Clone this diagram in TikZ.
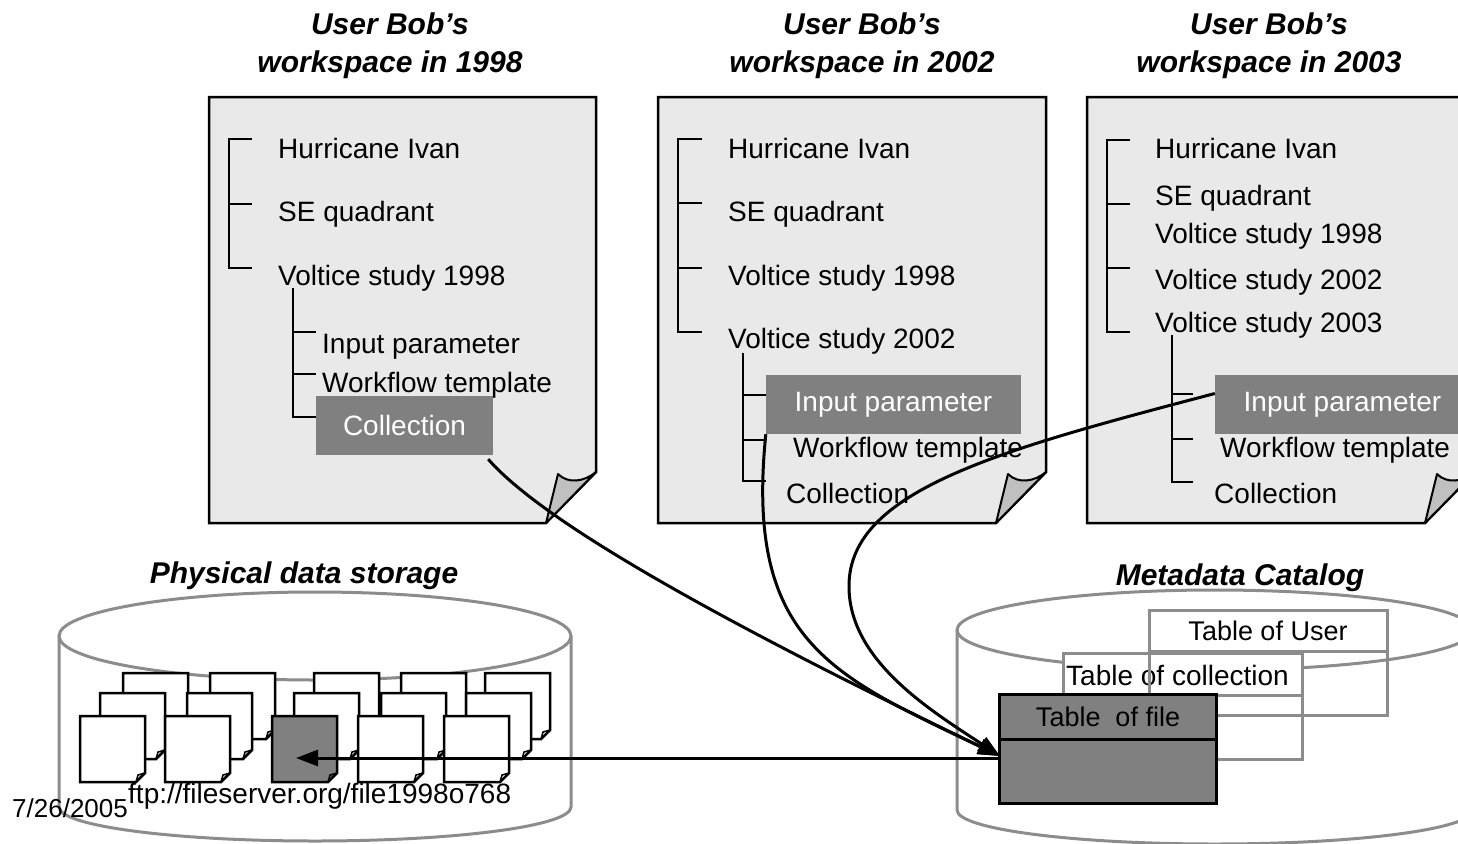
\documentclass[tikz,border=0pt]{standalone}
\usepackage{fontspec}
\setmainfont{Liberation Sans}
\usetikzlibrary{arrows.meta}
\definecolor{sheetfill}{RGB}{233,233,233}
\definecolor{boxgray}{RGB}{128,128,128}
\definecolor{curlgray}{RGB}{192,192,192}
\definecolor{drumgray}{RGB}{140,140,140}

% a workspace sheet with a curled lower right corner
\newcommand\worksheet[2]{%
  \draw[sheet] (#1,97) -- (#2,97) -- (#2,472) -- ({#2-50},523) -- (#1,523) -- cycle;
  \draw[sheetcurl] ({#2-50},523) -- ({#2-38},474)
     .. controls ({#2-28},484) and ({#2-12},482) .. (#2,472) -- cycle;
}
% a stored file with a folded corner
\newcommand\filedoc[3]{%
  \draw[docline, fill=#3] (#1,#2) -- ++(65,0) -- ++(0,57) -- ++(-9,9) -- ++(-56,0) -- cycle;
  \draw[line width=1.5pt] ({#1+56},{#2+66}) -- ({#1+58},{#2+59}) -- ({#1+65},{#2+57});
}

\begin{document}
\begin{tikzpicture}[x=1pt,y=-1pt,
  heading/.style={font=\fontsize{30}{36}\selectfont\bfseries\itshape, inner sep=0, anchor=base},
  entry/.style={font=\fontsize{28}{32}\selectfont, inner sep=0, anchor=base west},
  hlbox/.style={fill=boxgray, text=white, font=\fontsize{28}{32}\selectfont, inner sep=0,
                minimum height=59pt},
  treeline/.style={line width=2.5pt},
  sheet/.style={fill=sheetfill, draw=black, line width=2.5pt, line join=miter},
  sheetcurl/.style={fill=curlgray, draw=black, line width=2pt, line join=round},
  drum/.style={draw=drumgray, line width=3pt},
  docline/.style={draw=black, line width=2.5pt},
  tabline/.style={draw=drumgray, line width=3pt},
  conn/.style={line width=3pt, -{Triangle[length=22pt,width=16pt]}},
]
\useasboundingbox (0,0) rectangle (1458,843);
\clip (0,0) rectangle (1458,843);

% ---------------- headings ----------------
\node[heading] (h1a) at (390,35) {User Bob's};
\node[heading] (h1b) at (390,73) {workspace in 1998};
\node[heading] (h2a) at (862,35) {User Bob's};
\node[heading] (h2b) at (862,73) {workspace in 2002};
\node[heading] (h3a) at (1269,35) {User Bob's};
\node[heading] (h3b) at (1269,73) {workspace in 2003};
\node[heading] (hstore) at (304,583) {Physical data storage};
\node[heading] (hcat) at (1240,585) {Metadata Catalog};

% ---------------- physical data storage drum ----------------
\draw[drum] (315,636) ellipse[x radius=256, y radius=44];
\draw[drum] (59,636) -- (59,807)
  .. controls (59,826) and (174,841) .. (315,841)
  .. controls (456,841) and (571,826) .. (571,807) -- (571,636);

% stacks of files: back, middle, front
\foreach \x in {123,210,314,401,485} {\filedoc{\x}{673}{white}}
\foreach \x in {100,187,294,381,466} {\filedoc{\x}{693}{white}}
\foreach \x in {80,165} {\filedoc{\x}{716}{white}}
\filedoc{272}{716}{boxgray}
\foreach \x in {358,444} {\filedoc{\x}{716}{white}}
\coordinate (hitfile) at (296,758);

\node[entry] (url) at (128,803) {ftp://fileserver.org/file1998o768};
\node[entry, font=\fontsize{26}{30}\selectfont] (date) at (12,817) {7/26/2005};

% ---------------- metadata catalog drum ----------------
\draw[drum] (1215,630) ellipse[x radius=258, y radius=40];
\draw[drum] (957,630) -- (957,810)
  .. controls (957,829) and (1072,844) .. (1215,844)
  .. controls (1358,844) and (1473,829) .. (1473,810) -- (1473,630);

% tables
\fill[white] (1063,653) rectangle (1302,695);
\draw[tabline] (1063,653) rectangle (1302,759);
\draw[tabline] (1063,695) -- (1302,695);
\node[entry, text=black] (tcoll) at (1066,685) {Table of collection};

\fill[white] (1149,610) rectangle (1387,651);
\draw[tabline] (1149,610) rectangle (1387,715);
\draw[tabline] (1149,651) -- (1387,651);
\node[font=\fontsize{27}{32}\selectfont, inner sep=0] (tuser) at (1268,631) {Table of User};

\node[draw=black, line width=3pt, fill=boxgray, minimum width=217pt, minimum height=109pt,
      inner sep=0] (tfile) at (1107.5,748.5) {};
\draw[line width=3pt] (999,739) -- (1216,739);
\node[font=\fontsize{27}{32}\selectfont, inner sep=0] (tfilehead) at (1108,717) {Table\ \ of file};
\coordinate (tfin) at (1000,756);
\coordinate (tfout) at (1000,758);

% ---------------- workspace 1998 ----------------
\worksheet{209}{596}
\draw[treeline] (252,139) -- (229,139) -- (229,268) -- (252,268);
\draw[treeline] (229,204) -- (252,204);
\node[entry] (a1) at (278,158) {Hurricane Ivan};
\node[entry] (a2) at (278,221) {SE quadrant};
\node[entry] (a3) at (278,285) {Voltice study 1998};
\draw[treeline] (293,288) -- (293,417) -- (316,417);
\draw[treeline] (293,332) -- (316,332);
\draw[treeline] (293,374) -- (316,374);
\node[entry] (a4) at (322,353) {Input parameter};
\node[entry] (a5) at (322,392) {Workflow template};
\node[hlbox, minimum width=177pt] (col1) at (404.5,425.5) {Collection};

% ---------------- workspace 2002 ----------------
\worksheet{658}{1046}
\draw[treeline] (702,139) -- (678,139) -- (678,332) -- (702,332);
\draw[treeline] (678,203) -- (702,203);
\draw[treeline] (678,268) -- (702,268);
\node[entry] (b1) at (728,158) {Hurricane Ivan};
\node[entry] (b2) at (728,221) {SE quadrant};
\node[entry] (b3) at (728,285) {Voltice study 1998};
\node[entry] (b4) at (728,348) {Voltice study 2002};
\draw[treeline] (743,353) -- (743,481) -- (766,481);
\draw[treeline] (743,395) -- (766,395);
\draw[treeline] (743,440) -- (766,440);
\node[hlbox, minimum width=255pt] (ip2) at (893.5,404.5) {Input parameter};
\node[entry] (b5) at (793,457) {Workflow template};
\node[entry] (b6) at (786,503) {Collection};

% ---------------- workspace 2003 ----------------
\worksheet{1087}{1475}
\draw[treeline] (1130,140) -- (1107,140) -- (1107,332) -- (1130,332);
\draw[treeline] (1107,204) -- (1130,204);
\draw[treeline] (1107,268) -- (1130,268);
\node[entry] (c1) at (1155,158) {Hurricane Ivan};
\node[entry] (c2) at (1155,205) {SE quadrant};
\node[entry] (c3) at (1155,243) {Voltice study 1998};
\node[entry] (c4) at (1155,289) {Voltice study 2002};
\node[entry] (c5) at (1155,332) {Voltice study 2003};
\draw[treeline] (1172,335) -- (1172,482) -- (1193,482);
\draw[treeline] (1172,394) -- (1193,394);
\draw[treeline] (1172,439) -- (1193,439);
\node[hlbox, minimum width=255pt] (ip3) at (1342.5,404.5) {Input parameter};
\node[entry] (c6) at (1220,457) {Workflow template};
\node[entry] (c7) at (1214,503) {Collection};

% ---------------- references into the catalog ----------------
\draw[conn] ([shift={(-5pt,-4pt)}]col1.south east)
  .. controls (550,530) and (760,640) .. (tfin);
\draw[conn] (ip2.south west)
  .. controls (745,640) and (830,675) .. (tfin);
\draw[conn] ([yshift=11pt]ip3.west)
  .. controls (1000,450) and (850,490) .. (849,585)
  .. controls (848,660) and (930,710) .. (tfin);
\draw[conn] (tfout) -- (hitfile);

\end{tikzpicture}
\end{document}
